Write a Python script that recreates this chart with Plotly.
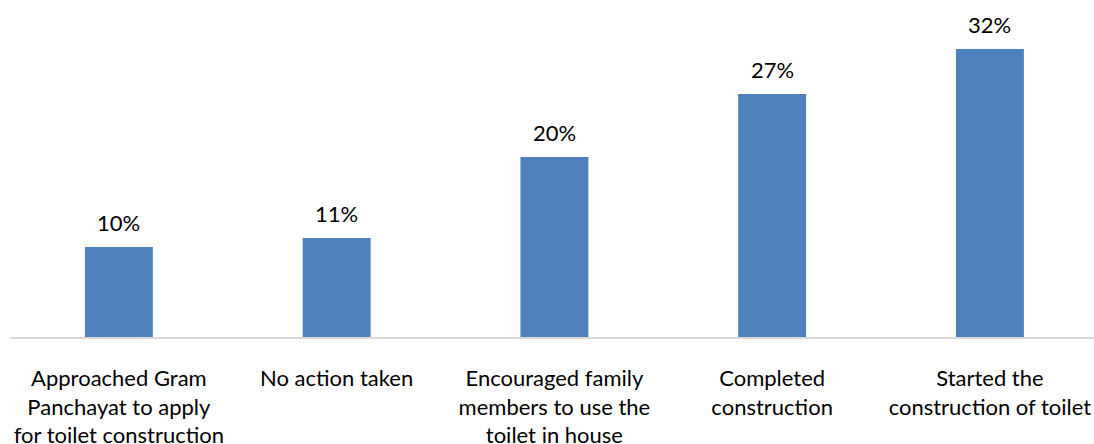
import plotly.graph_objects as go

categories = [
    "Approached Gram<br>Panchayat to apply<br>for toilet construction",
    "No action taken",
    "Encouraged family<br>members to use the<br>toilet in house",
    "Completed<br>construction",
    "Started the<br>construction of toilet",
]
values = [10, 11, 20, 27, 32]
value_labels = ["10%", "11%", "20%", "27%", "32%"]

FONT = "Lato"
BAR_COLOR = "#4f81bd"

fig = go.Figure(
    go.Bar(
        x=list(range(len(categories))),
        y=values,
        marker=dict(color=BAR_COLOR, line=dict(width=0)),
        width=0.312,
        hoverinfo="skip",
    )
)

for i, (v, lab) in enumerate(zip(values, value_labels)):
    fig.add_annotation(
        x=i, y=v, text=lab, showarrow=False,
        yanchor="bottom", yshift=9,
        font=dict(family=FONT, size=22, color="#000000"),
    )

fig.update_layout(
    width=1094, height=444,
    margin=dict(l=10, r=0, t=0, b=107),
    paper_bgcolor="white", plot_bgcolor="white",
    showlegend=False,
    font=dict(family=FONT, size=22, color="#000000"),
)
fig.update_xaxes(
    tickmode="array",
    tickvals=list(range(len(categories))),
    ticktext=categories,
    range=[-0.5, 4.478],
    showline=True, linecolor="#d9d9d9", linewidth=1.5,
    showgrid=False, zeroline=False, ticks="",
    ticklabelstandoff=21,
    tickangle=0,
    automargin=False,
    tickfont=dict(family=FONT, size=22, color="#000000"),
)
fig.update_yaxes(
    range=[0, 337 / 9.0],
    visible=False, showgrid=False, zeroline=False,
)

fig.write_html("out.html")
